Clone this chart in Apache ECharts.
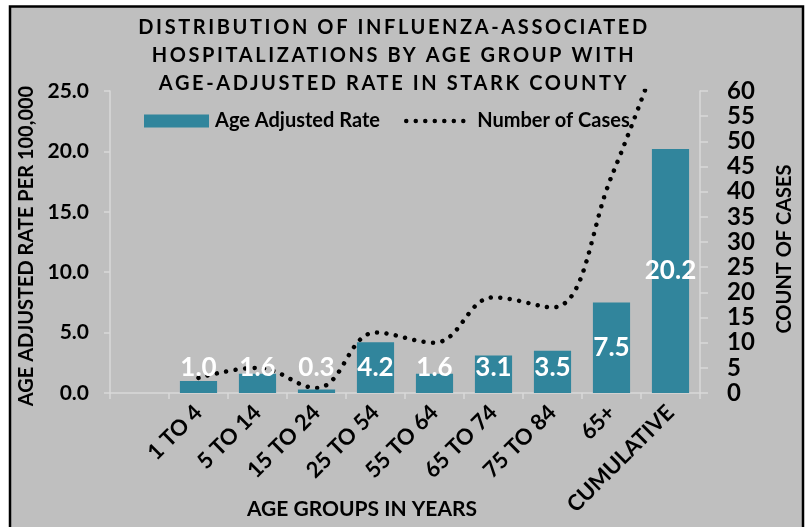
<!DOCTYPE html>
<html><head><meta charset="utf-8">
<script src="https://cdn.jsdelivr.net/npm/echarts@6/dist/echarts.min.js"></script>
<style>html,body{margin:0;padding:0;background:#fff}#c{width:805px;height:527px}</style>
</head><body><div id="c"></div>
<script>
// ---- data ----
const titleLines = ['DISTRIBUTION OF INFLUENZA-ASSOCIATED', 'HOSPITALIZATIONS BY AGE GROUP WITH', 'AGE-ADJUSTED RATE IN STARK COUNTY'];
const categories = ['', '1 TO 4', '5 TO 14', '15 TO 24', '25 TO 54', '55 TO 64', '65 TO 74', '75 TO 84', '65+', 'CUMULATIVE'];
const rateValues = [null, 1.0, 1.6, 0.3, 4.2, 1.6, 3.1, 3.5, 7.5, 20.2];
const caseValues = [null, 3, 5, 1, 12, 10, 19, 17, 43, 74];
const rateAxis = { min: 0, max: 25, interval: 5 };
const caseAxis = { min: 0, max: 60, interval: 5 };
const seriesNames = ['Age Adjusted Rate', 'Number of Cases'];
const xAxisTitle = 'AGE GROUPS IN YEARS';
const leftAxisTitle = 'AGE ADJUSTED RATE PER 100,000';
const rightAxisTitle = 'COUNT OF CASES';

// letter spacing for the title lines only
const origFill = CanvasRenderingContext2D.prototype.fillText;
CanvasRenderingContext2D.prototype.fillText = function (t, x, y, w) {
  if (titleLines.indexOf(t) >= 0 && 'letterSpacing' in this) {
    const prev = this.letterSpacing;
    this.letterSpacing = '2.6px';
    const args = w === undefined ? [t, x, y] : [t, x, y, w];
    origFill.apply(this, args);
    this.letterSpacing = prev;
  } else {
    origFill.apply(this, arguments);
  }
};

const FONT = 'Lato';
const W = 'bold';
const INK = '#000';
const AXIS_COLOR = '#d9d9d9';
const BAR_COLOR = '#31859c';
const DOTS = { color: '#000', width: 4.5, type: [0.01, 9.5], cap: 'round' };

const barData = rateValues.map(v => {
  if (v == null) return '-';
  return {
    value: v,
    label: v < 5 ? { position: 'insideBottom', distance: 12 } : { position: 'inside' }
  };
});
const lineData = caseValues.map(v => v == null ? '-' : v);

const chart = echarts.init(document.getElementById('c'), null, { renderer: 'canvas' });
chart.setOption({
  backgroundColor: '#ffffff',
  animation: false,
  textStyle: { fontFamily: FONT },
  graphic: [{
    type: 'rect', z: -10, silent: true,
    shape: { x: 10, y: 6.5, width: 793, height: 540 },
    style: { fill: '#bfbfbf', stroke: '#000', lineWidth: 2.5 }
  }],
  title: {
    text: titleLines.join('\n'),
    left: 389, top: 9, textAlign: 'center',
    textStyle: { fontFamily: FONT, fontWeight: W, fontSize: 20, lineHeight: 28, color: INK }
  },
  legend: {
    left: 139, top: 106,
    itemWidth: 65, itemHeight: 13, itemGap: 24,
    textStyle: { fontFamily: FONT, fontWeight: W, fontSize: 20, color: INK, padding: [0, 0, 0, 1] },
    data: [
      { name: seriesNames[0], icon: 'rect' },
      { name: seriesNames[1], itemStyle: { opacity: 0 }, lineStyle: DOTS }
    ]
  },
  grid: { left: 110, right: 105, top: 91, bottom: 134, containLabel: false, outerBoundsMode: 'none' },
  xAxis: {
    type: 'category', data: categories, boundaryGap: true,
    axisLine: { lineStyle: { color: AXIS_COLOR, width: 1.5 } },
    axisTick: { show: true, alignWithLabel: false, length: 6, lineStyle: { color: AXIS_COLOR, width: 1.5 } },
    axisLabel: { rotate: 45, margin: 16, interval: 0, color: INK, fontFamily: FONT, fontWeight: W, fontSize: 22 },
    name: xAxisTitle, nameLocation: 'middle', nameGap: 106, nameMoveOverlap: false,
    nameTextStyle: { fontFamily: FONT, fontWeight: W, fontSize: 21, color: INK, padding: [0, 86, 0, 0] }
  },
  yAxis: [{
    type: 'value', position: 'left', min: rateAxis.min, max: rateAxis.max, interval: rateAxis.interval,
    axisLine: { show: true, lineStyle: { color: AXIS_COLOR, width: 1.5 } },
    axisTick: { show: true, length: 6, lineStyle: { color: AXIS_COLOR, width: 1.5 } },
    splitLine: { show: false },
    axisLabel: { margin: 21, color: INK, fontFamily: FONT, fontWeight: W, fontSize: 21, formatter: v => v.toFixed(1) },
    name: leftAxisTitle, nameLocation: 'middle', nameGap: 73, nameRotate: 90, nameMoveOverlap: false,
    nameTextStyle: { fontFamily: FONT, fontWeight: W, fontSize: 20, color: INK, padding: [0, 8, 0, 0] }
  }, {
    type: 'value', position: 'right', min: caseAxis.min, max: caseAxis.max, interval: caseAxis.interval,
    axisLine: { show: true, lineStyle: { color: AXIS_COLOR, width: 1.5 } },
    axisTick: { show: true, length: 8, lineStyle: { color: AXIS_COLOR, width: 1.5 } },
    splitLine: { show: false },
    axisLabel: { margin: 27, color: INK, fontFamily: FONT, fontWeight: W, fontSize: 24 },
    name: rightAxisTitle, nameLocation: 'middle', nameGap: 75, nameRotate: 90, nameMoveOverlap: false,
    nameTextStyle: { fontFamily: FONT, fontWeight: W, fontSize: 20, color: INK, padding: [0, 14, 0, 0] }
  }],
  series: [{
    name: seriesNames[0], type: 'bar', yAxisIndex: 0, z: 3,
    barWidth: '63%', data: barData,
    itemStyle: { color: BAR_COLOR },
    label: {
      show: true, color: '#fff', fontFamily: FONT, fontWeight: W, fontSize: 26,
      formatter: p => Number(p.value).toFixed(1)
    }
  }, {
    name: seriesNames[1], type: 'line', yAxisIndex: 1, z: 2,
    data: lineData, smooth: 0.4, symbol: 'none', showSymbol: false, clip: true,
    lineStyle: DOTS,
    itemStyle: { color: '#000' }
  }]
});
</script>
</body></html>
